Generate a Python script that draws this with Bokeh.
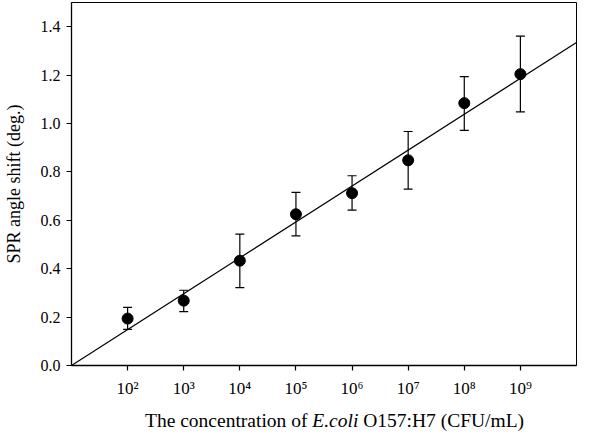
from bokeh.plotting import figure
from bokeh.models import (ColumnDataSource, Whisker, TeeHead, FixedTicker,
                          Range1d, NumeralTickFormatter, Div)
from bokeh.layouts import column
from bokeh.embed import file_html
from bokeh.resources import INLINE

# Data: exponent of concentration (10^n CFU/mL) and SPR angle shift (deg.)
log_conc = [2, 3, 4, 5, 6, 7, 8, 9]
shift = [0.194, 0.268, 0.433, 0.625, 0.712, 0.848, 1.084, 1.204]
err_upper = [0.240, 0.311, 0.543, 0.715, 0.784, 0.967, 1.194, 1.361]
err_lower = [0.149, 0.223, 0.322, 0.536, 0.642, 0.729, 0.972, 1.048]
fit_x = [1, 10]
fit_y = [0.0, 1.335]
x_tick_vals = [2, 3, 4, 5, 6, 7, 8, 9]
x_tick_labels = ["10²", "10³", "10⁴", "10⁵", "10⁶", "10⁷", "10⁸", "10⁹"]
y_tick_vals = [0.0, 0.2, 0.4, 0.6, 0.8, 1.0, 1.2, 1.4]

FONT = "Liberation Serif"

p = figure(width=578, height=403, output_backend="svg", toolbar_location=None,
           x_range=Range1d(1, 10), y_range=Range1d(0, 1.5),
           min_border_left=70, min_border_right=2, min_border_top=2,
           min_border_bottom=38)
p.grid.visible = False
p.outline_line_color = "black"
p.outline_line_width = 1
p.background_fill_color = "white"
p.border_fill_color = "white"

src = ColumnDataSource(dict(x=log_conc, y=shift, upper=err_upper, lower=err_lower))

p.line(fit_x, fit_y, line_color="black", line_width=1.2)

wh = Whisker(base="x", upper="upper", lower="lower", source=src,
             line_color="black", line_width=1.2,
             upper_head=TeeHead(size=9, line_color="black", line_width=1.2),
             lower_head=TeeHead(size=9, line_color="black", line_width=1.2))
p.add_layout(wh)

p.scatter("x", "y", source=src, size=11, fill_color="black", line_color="black")

# Axes
p.xaxis.ticker = FixedTicker(ticks=x_tick_vals)
p.xaxis.major_label_overrides = {v: t for v, t in zip(x_tick_vals, x_tick_labels)}
p.yaxis.ticker = FixedTicker(ticks=y_tick_vals)
p.yaxis.formatter = NumeralTickFormatter(format="0.0")
for ax in (p.xaxis, p.yaxis):
    ax.axis_line_color = "black"
    ax.axis_line_width = 1.3
    ax.major_tick_line_color = "black"
    ax.major_tick_line_width = 1.2
    ax.major_tick_out = 5
    ax.major_tick_in = 0
    ax.minor_tick_line_color = None
    ax.major_label_text_font = FONT
    ax.major_label_text_color = "black"
    ax.axis_label_text_font = FONT
    ax.axis_label_text_font_style = "normal"
    ax.axis_label_text_color = "black"
p.yaxis.major_label_text_font_size = "16px"
p.xaxis.major_label_text_font_size = "17px"
p.yaxis.major_label_standoff = 6
p.xaxis.major_label_standoff = 8
p.yaxis.axis_label = "SPR angle shift (deg.)"
p.yaxis.axis_label_text_font_size = "18px"
p.yaxis.axis_label_standoff = 14

# X-axis title with italic species name
title = Div(text="The concentration of <i>E.coli</i> O157:H7 (CFU/mL)",
            width=578, height=26,
            styles={"font-family": FONT, "font-size": "19.5px", "color": "black",
                    "padding-left": "140px", "white-space": "nowrap",
                    "line-height": "26px"})

layout = column(p, title, spacing=0)

open("out.html", "w").write(file_html(layout, INLINE))
